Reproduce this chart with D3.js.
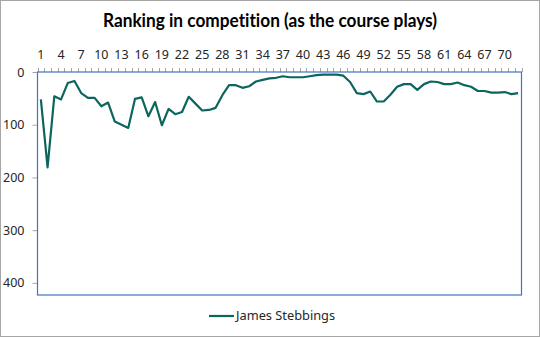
<!DOCTYPE html>
<html><head><meta charset="utf-8">
<script src="https://cdn.jsdelivr.net/npm/d3@7"></script>
<style>body{margin:0;background:#fff}svg{display:block}text{font-variant-ligatures:none}</style>
</head><body>
<svg id="c" width="540" height="337"></svg>
<script>
const title = "Ranking in competition (as the course plays)";
const seriesName = "James Stebbings";
const holes = d3.range(1, 73);
const ranks = [52,181,46,52,21,17,40,49,49,65,58,94,100,106,51,48,84,57,101,70,80,76,47,60,73,72,68,44,25,25,30,27,18,15,12,11,8,10,10,10,8,6,5,5,5,7,19,40,42,37,56,56,43,28,23,23,34,23,18,19,23,23,20,25,28,36,36,39,39,38,42,40];
const yTicks = [0,100,200,300,400];
const yMax = 423;

const svg = d3.select("#c");
svg.append("rect").attr("x",0.5).attr("y",0.5).attr("width",539).attr("height",336)
  .attr("fill","#fff").attr("stroke","#A6A6A6");

const L = 37.5, R = 521.5, T = 72, B = 295;
const x = d3.scaleBand().domain(holes).range([L, R]);
const y = d3.scaleLinear().domain([0, yMax]).range([T, B]);

svg.append("text").attr("x",270).attr("y",27).attr("text-anchor","middle")
  .attr("font-family","Lato, 'Open Sans', sans-serif").attr("font-weight","bold")
  .attr("font-size",19).attr("textLength",334).attr("lengthAdjust","spacingAndGlyphs")
  .attr("fill","#000").text(title);

// x axis on top
const xAxis = d3.axisTop(x).tickSizeOuter(0).tickSize(0)
  .tickFormat(d => ((d-1)%3===0) ? d : "");
const gx = svg.append("g").attr("transform",`translate(0,${T})`).call(xAxis);
gx.select(".domain").remove();
gx.selectAll("text").attr("y",-13).attr("font-family","'Noto Sans', 'Open Sans', sans-serif")
  .attr("font-size",12.5).attr("fill","#262626");
// boundary tick marks
const bounds = holes.map(d => x(d)).concat([R]);
svg.append("g").selectAll("line").data(bounds).join("line")
  .attr("x1",d=>Math.round(d)+0.5).attr("x2",d=>Math.round(d)+0.5)
  .attr("y1",T-4).attr("y2",T).attr("stroke","#A6A6A6");

// y axis
const yAxis = d3.axisLeft(y).tickValues(yTicks).tickSize(5).tickSizeOuter(0);
const gy = svg.append("g").attr("transform",`translate(${L},0)`).call(yAxis);
gy.select(".domain").remove();
gy.selectAll("line").attr("stroke","#A6A6A6");
gy.selectAll("text").attr("x",-13).attr("font-family","'Noto Sans', 'Open Sans', sans-serif")
  .attr("font-size",12.5).attr("fill","#262626");

// plot border
svg.append("rect").attr("x",L).attr("y",T).attr("width",R-L).attr("height",B-T)
  .attr("fill","none").attr("stroke","#4472C4").attr("stroke-width",1.2);

// line
const line = d3.line().x((d,i)=>x(holes[i])+x.bandwidth()/2).y(d=>y(d));
svg.append("path").datum(ranks).attr("d",line).attr("fill","none")
  .attr("stroke","#0B665E").attr("stroke-width",2.2).attr("stroke-linejoin","round");

// legend
svg.append("line").attr("x1",209).attr("x2",234).attr("y1",316).attr("y2",316)
  .attr("stroke","#0B665E").attr("stroke-width",2.2);
svg.append("text").attr("x",236).attr("y",320).attr("font-family","'Noto Sans', 'Open Sans', sans-serif")
  .attr("font-size",12.8).attr("fill","#262626").text(seriesName);
</script>
</body></html>
